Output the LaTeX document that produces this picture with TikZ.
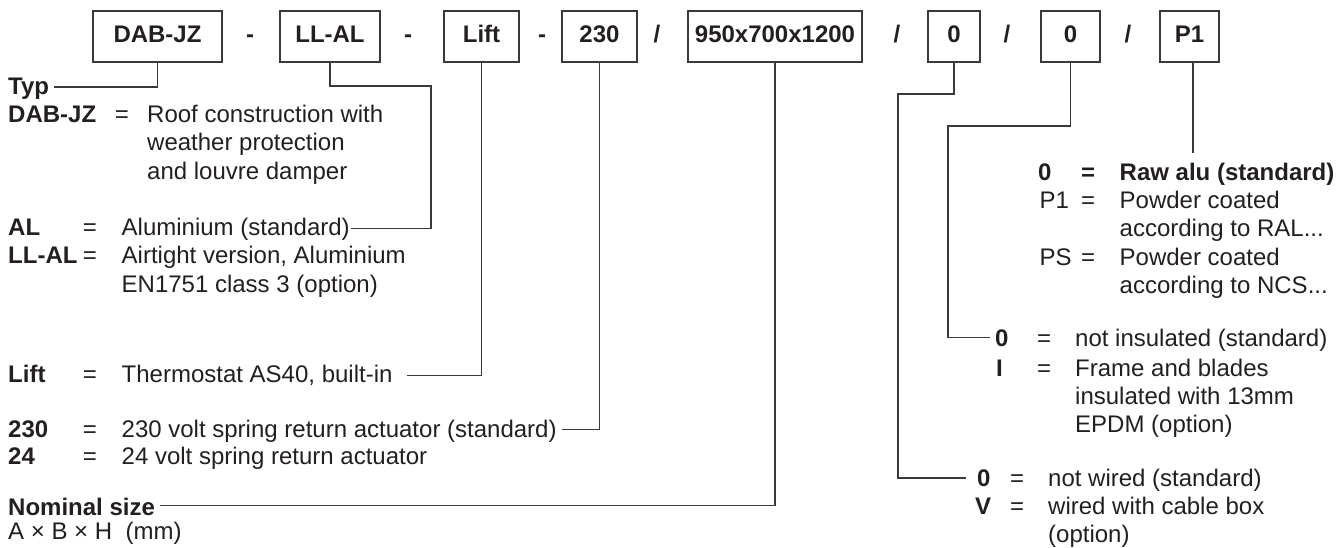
\documentclass[tikz,border=0pt]{standalone}
\usepackage{fontspec}
\setmainfont{Liberation Sans}
\definecolor{ink}{HTML}{231F20}
\definecolor{wirecol}{HTML}{3A3A3A}
\newcommand\sz{\fontsize{24}{28}\selectfont}
\begin{document}
\begin{tikzpicture}[x=1pt,y=-1pt,
  codebox/.style={draw=wirecol, line width=1.1pt, minimum height=51pt, inner sep=0pt,
    font=\sz\bfseries, text=ink, text height=17pt, text depth=5pt},
  sepmark/.style={anchor=base, inner sep=0pt, font=\sz\bfseries, text=ink},
  lbl/.style={anchor=base west, inner sep=0pt, font=\sz\bfseries, text=ink},
  dsc/.style={anchor=base west, inner sep=0pt, font=\sz, text=ink},
  eqs/.style={anchor=base, inner sep=0pt, font=\sz, text=ink},
  eqb/.style={anchor=base, inner sep=0pt, font=\sz\bfseries, text=ink},
  conn/.style={draw=wirecol, line width=1.1pt}
]
\useasboundingbox (0,0) rectangle (1342,548);

% code boxes
\node[codebox, minimum width=129pt] (b1) at (157.5,36.5) {DAB-JZ};
\node[codebox, minimum width=100pt] (b2) at (330,36.5) {LL-AL};
\node[codebox, minimum width=75pt]  (b3) at (481.5,36.5) {Lift};
\node[codebox, minimum width=75pt]  (b4) at (599.5,36.5) {230};
\node[codebox, minimum width=174pt] (b5) at (775,36.5) {950x700x1200};
\node[codebox, minimum width=52pt]  (b6) at (954,36.5) {0};
\node[codebox, minimum width=59pt]  (b7) at (1070.5,36.5) {0};
\node[codebox, minimum width=59pt]  (b8) at (1189.5,36.5) {P1};

% separators
\node[sepmark] (s1) at (250,42.5) {-};
\node[sepmark] (s2) at (408,42.5) {-};
\node[sepmark] (s3) at (542,42.5) {-};
\node[sepmark] (s4) at (657,42.5) {/};
\node[sepmark] (s5) at (897,42.5) {/};
\node[sepmark] (s6) at (1007,42.5) {/};
\node[sepmark] (s7) at (1128,42.5) {/};

% left legend
\node[lbl] (typ) at (8,95) {Typ};
\node[lbl] (kdab) at (8,122.5) {DAB-JZ};
\node[eqs] (edab) at (122,122.5) {=};
\node[dsc] (ddab1) at (147,122.5) {Roof construction with};
\node[dsc] (ddab2) at (147,151) {weather protection};
\node[dsc] (ddab3) at (147,179.5) {and louvre damper};

\node[lbl] (kal) at (8,235.5) {AL};
\node[eqs] (eal) at (90,235.5) {=};
\node[dsc] (al) at (121.5,235.5) {Aluminium (standard)};
\node[lbl] (kllal) at (8,264) {LL-AL};
\node[eqs] (ellal) at (90,264) {=};
\node[dsc] (dllal1) at (121.5,264) {Airtight version, Aluminium};
\node[dsc] (dllal2) at (121.5,293) {EN1751 class 3 (option)};

\node[lbl] (klift) at (8,382.5) {Lift};
\node[eqs] (elift) at (90,382.5) {=};
\node[dsc] (lift) at (121.5,382.5) {Thermostat AS40, built-in};

\node[lbl] (k230) at (8,437.5) {230};
\node[eqs] (e230) at (90,437.5) {=};
\node[dsc] (d230) at (121.5,437.5) {230 volt spring return actuator (standard)};
\node[lbl] (k24) at (8,464.5) {24};
\node[eqs] (e24) at (90,464.5) {=};
\node[dsc] (d24) at (121.5,464.5) {24 volt spring return actuator};

\node[lbl] (nom) at (8,515.5) {Nominal size};
\node[dsc] (axbxh) at (8,539.5) {A × B × H \ (mm)};

% right legend: finish
\node[lbl] (kraw) at (1038,180.5) {0};
\node[eqb] (eraw) at (1088,180.5) {=};
\node[lbl] (raw) at (1119.5,180.5) {Raw alu (standard)};
\node[dsc] (kp1) at (1039.5,208.5) {P1};
\node[eqs] (ep1) at (1088,208.5) {=};
\node[dsc] (dp1a) at (1119.5,208.5) {Powder coated};
\node[dsc] (dp1b) at (1119.5,236.5) {according to RAL...};
\node[dsc] (kps) at (1039.5,265.5) {PS};
\node[eqs] (eps) at (1088,265.5) {=};
\node[dsc] (dpsa) at (1119.5,265.5) {Powder coated};
\node[dsc] (dpsb) at (1119.5,294) {according to NCS...};

% right legend: insulation
\node[lbl] (i0) at (995,346) {0};
\node[eqs] (ei0) at (1044,346) {=};
\node[dsc] (di0) at (1075,346) {not insulated (standard)};
\node[lbl] (ki) at (996,376) {I};
\node[eqs] (eki) at (1044,376) {=};
\node[dsc] (dia) at (1075,376) {Frame and blades};
\node[dsc] (dib) at (1075,404.5) {insulated with 13mm};
\node[dsc] (dic) at (1075,432.5) {EPDM (option)};

% right legend: wiring
\node[lbl] (w0) at (977,486) {0};
\node[eqs] (ew0) at (1017,486) {=};
\node[dsc] (dw0) at (1048,486) {not wired (standard)};
\node[lbl] (kv) at (975,514.5) {V};
\node[eqs] (ekv) at (1017,514.5) {=};
\node[dsc] (dva) at (1048,514.5) {wired with cable box};
\node[dsc] (dvb) at (1048,542) {(option)};

% bend points
\coordinate (k2) at (431,86);
\coordinate (k6) at (898,94);
\coordinate (k7) at (948,126);
\coordinate (k8) at (1193,153);

% connectors
\draw[conn] (b1.south) |- ([xshift=5pt,yshift=8pt]typ.base east);
\draw[conn] (b2.south) |- (k2) |- ([xshift=1.5pt,yshift=7pt]al.base east);
\draw[conn] (b3.south) |- ([xshift=14pt,yshift=7pt]lift.base east);
\draw[conn] (b4.south) |- ([xshift=5pt,yshift=8pt]d230.base east);
\draw[conn] (b5.south) |- ([xshift=5pt,yshift=10pt]nom.base east);
\draw[conn] (b6.south) |- (k6) |- ([xshift=-11pt,yshift=8pt]w0.base west);
\draw[conn] (b7.south) |- (k7) |- ([xshift=-5pt,yshift=8.5pt]i0.base west);
\draw[conn] (k8 |- b8.south) -- (k8);
\end{tikzpicture}
\end{document}
